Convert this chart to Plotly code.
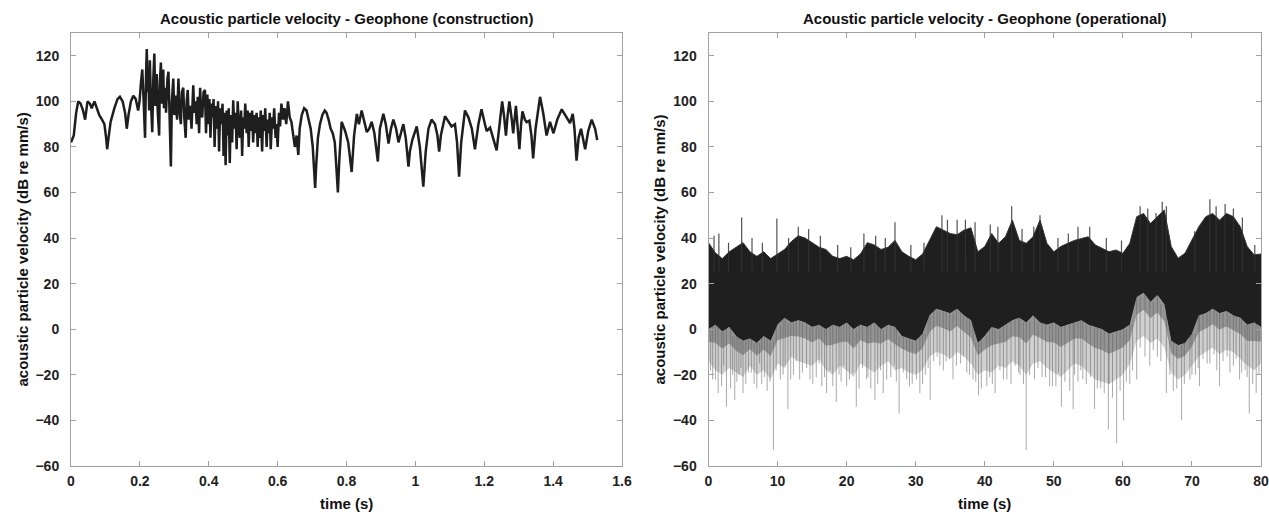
import plotly.graph_objects as go

# ---------------- data: construction (left) ----------------
CON_T = [0.000,0.008,0.015,0.021,0.028,0.035,0.041,0.048,0.055,0.060,0.068,0.075,0.082,0.090,0.097,0.102,0.105,0.109,0.115,0.126,0.135,0.142,0.150,0.157,0.162,0.167,0.174,0.181,0.188,0.195,0.199,0.203,
         0.207,0.211,0.215,0.218,0.220,0.223,0.225,0.227,0.229,0.232,0.236,0.239,0.242,0.245,0.249,0.252,0.256,0.258,0.261,0.264,0.268,0.270,0.273,0.276,0.280,0.283,0.286,0.290,0.293,0.297,0.300,0.304,0.308,0.312,0.315,0.319,0.322,0.326,0.329,0.333,0.336,0.339,0.342,0.346,0.350,0.355,0.358,0.362,0.365,0.368,0.372,0.375,0.378,0.381,0.385,0.389,
         0.392,0.396,0.399,0.402,0.405,0.408,0.411,0.414,0.417,0.420,0.424,0.427,0.430,0.433,0.437,0.440,0.443,0.446,0.449,0.452,0.455,0.458,0.461,0.464,0.468,0.471,0.474,0.478,0.481,0.484,0.487,0.490,0.494,0.497,0.500,0.503,0.506,0.510,0.513,0.516,0.519,0.522,0.526,0.529,0.532,0.535,0.539,0.542,0.545,0.548,0.551,0.555,0.558,0.561,0.564,0.568,0.571,0.574,0.577,0.580,0.584,0.587,0.590,0.594,0.597,0.600,0.604,0.607,
         0.611,0.616,0.620,0.625,0.630,0.635,0.640,0.645,0.650,0.655,0.660,0.664,0.670,0.677,0.684,0.690,0.696,0.702,0.706,0.709,0.712,0.717,0.723,0.730,0.737,0.742,0.748,0.754,0.760,0.766,0.771,0.775,0.779,0.783,
         0.786,0.796,0.805,0.815,0.822,0.830,0.836,0.844,0.859,0.866,0.873,0.881,0.891,0.897,0.907,0.914,0.922,0.929,0.936,0.944,0.951,0.958,0.965,0.972,0.980,0.984,0.991,1.004,1.013,1.023,1.030,1.038,1.047,1.057,1.064,1.069,1.074,1.086,1.096,1.105,1.115,1.121,1.127,1.133,1.144,1.154,1.164,
         1.168,1.173,1.183,1.192,1.202,1.207,1.217,1.226,1.236,1.246,1.252,1.258,1.263,1.268,1.273,1.280,1.284,1.292,1.297,1.302,1.307,1.311,1.318,1.323,1.331,1.337,1.342,1.349,1.362,1.371,1.381,1.391,1.401,1.412,1.425,1.439,1.449,1.457,1.462,1.468,1.474,1.481,1.493,1.502,1.512,1.522,1.528]
CON_V = [82,85,95,100,99,96,92,100,99,97,100,97,94,92,90,84,79,84,91,97,101,102,100,95,88,94,100,102.5,101,96,100,108,
         114,100,84,112,123,104,111,96,118,100,86.5,110,121,98,112,95,85,108,117,99,114,97,106,95,110,113,92,71.4,100,110,94,102.5,92,110,96,90,104,106,93,84,100,105,92,98,88,107,95,100,90,102,86,106,94,93,104,105,
         86,103,90,101,84,99,93,101,80,98,88,100,78,97,90,99,76,95,72,96,85,97,73,94,82,100.5,88,95,79,100,90,84,96,76,93,88,99,86,96,80,95,87,96,82,94,86,95,80,93,84,96,78,94,87,97,80,92,86,95,79,93,88,97,84,90,80,95,89,
         99,92,97,90,100,93,91,86,80,85,76.5,88,94,97,96,92,88,80,70,62,72,84,90,94,96,95,92,88,86,82,70,60,74,88,
         91,87,82,69,85,94.5,90,96,86.5,88,91,86,73.6,88,94.5,90,81.5,88,92,88,82,86,90,84,71.4,78,83,89,80,62.6,78,88,92,90,85,78,85,93.5,91,89,90,82,67,82,96,93,88,
         84,79,90,96.5,90,87,88.5,84,78.5,92,100,93,85,94,100,92,86,98,90,79,90,95.6,92,90.9,91.5,85,75,88,102,95,85,91,86,92,96.5,93,90.5,94.5,88,74,84,88,79,87,92,88,83]

# ---------------- data: operational (right) ----------------
OP_T = list(range(0, 81))
OP_TOP = [38,33.5,31,34,36,38,34,32,34,31,33,35,38.5,41,40,38,36,35,32,31,32,30.5,33,38,37,35,36,39,34,32,30.5,33,39,45,43.5,42,41.5,43.5,44.5,34,
          36.3,42,37.7,40.6,47.9,39,37.7,40.6,47.9,37.7,34,36.3,37.7,39,39.8,40.6,37,35.5,34,34.8,33.3,37.7,49.4,50.8,46.4,49.4,52.3,36.3,31.2,33.4,39.2,45,49.4,50.8,47.9,50.8,49.4,45,36.3,32.7,33]
OP_CORE_BOT = [0,2,-1,1,-3,-5,-4,-6,-3,-5,2,5,3,4,3,1,2,0,2,1,3,0,2,1,3,0,2,1,-3,-4,-5,-2,6,9,8,7,9,6,4,-6,
               -3,1,0,2,4,5,3,6,3,2,3,1,2,3,4,2,1,0,-2,-1,0,2,14,16,12,15,11,-5,-7,-6,-2,6,7,9,7,8,6,5,2,3,1]
OP_GRAY_BOT = [-14,-18,-20,-17,-19,-21,-16,-20,-18,-22,-15,-17,-12,-14,-15,-16,-13,-18,-20,-16,-18,-21,-15,-17,-19,-16,-14,-18,-17,-19,-20,-18,-12,-10,-11,-13,-10,-12,-15,-20,
               -18,-19,-16,-17,-14,-16,-20,-15,-14,-17,-19,-21,-18,-15,-16,-19,-22,-23,-24,-22,-20,-15,-5,-3,-6,-4,-8,-19,-22,-20,-16,-12,-10,-8,-11,-9,-10,-13,-16,-18,-15]
DOWN_T = [1.4,2.6,3.8,5.0,5.8,7.7,9.4,10.4,11.5,13.2,14.7,15.6,17.1,18.5,20.0,21.4,22.9,24.1,25.3,27.6,28.7,30.6,32.1,33.5,35.4,37.4,39.1,40.3,41.5,42.7,46.0,47.2,49.4,51.1,52.8,54.2,55.9,57.9,59.1,60.1,62.0,63.9,66.3,68.5,69.7,71.1,74.0,75.5,76.9,78.3,79.3,
          0.6,3.2,4.4,6.6,8.5,12.3,16.4,19.2,23.5,26.4,29.5,31.4,34.4,36.5,38.3,43.8,45.1,48.3,50.3,53.5,56.8,58.5,61.0,65.0,67.3,70.5,72.6,77.7]
DOWN_V = [-28,-34,-31,-28,-19,-24,-53,-22,-35,-22,-22,-21,-28,-32,-25,-34,-22,-31,-28,-37,-22,-28,-31,-16,-22,-19,-29,-25,-28,-22,-53,-22,-25,-34,-35,-22,-35,-44,-50,-40,-22,-16,-28,-40,-22,-25,-25,-19,-22,-37,-28,
          -22,-26,-20,-24,-27,-20,-25,-23,-26,-21,-24,-20,-14,-15,-22,-24,-20,-21,-25,-23,-26,-30,-24,-12,-27,-20,-15,-18]
HAIR_T = [0.3,1.0,1.9,2.2,3.5,4.1,4.7,5.4,6.2,7.0,7.4,8.1,8.9,9.8,10.8,11.1,11.9,12.7,13.6,14.2,15.1,16.0,16.8,17.6,18.0,18.9,19.6,20.4,20.9,21.8,22.3,23.1,24.5,24.9,25.8,26.9,27.2,28.2,29.1,30.1,
          31.0,31.8,32.6,33.1,34.0,34.9,35.9,36.9,37.8,38.7,39.5,40.7,41.1,42.2,43.2,44.4,44.9,45.6,46.5,47.7,48.8,49.8,50.7,51.6,52.3,53.0,53.9,54.7,55.3,56.3,57.3,58.0,59.6,60.5,61.4,62.5,63.2,64.4,65.5,66.8,
          67.8,68.9,70.0,70.9,71.6,72.2,73.2,73.6,74.5,75.1,76.0,76.4,77.2,78.0,78.8,79.7]
HAIR_V = [-18,-22,-25,-16,-20,-23,-17,-24,-19,-26,-15,-21,-23,-18,-20,-16,-22,-14,-19,-17,-24,-15,-21,-18,-25,-20,-16,-22,-19,-26,-17,-21,-24,-18,-22,-16,-23,-19,-25,-22,
          -24,-17,-14,-12,-18,-13,-16,-12,-20,-23,-26,-21,-24,-18,-22,-16,-19,-24,-20,-17,-21,-25,-19,-23,-27,-20,-18,-24,-21,-26,-28,-24,-27,-23,-18,-8,-12,-9,-14,-20,
          -26,-24,-20,-17,-13,-15,-11,-18,-14,-12,-16,-13,-19,-21,-24,-20]
UP_T = [1.5,4.8,9.9,13.0,22.5,27.0,33.8,36.0,40.8,43.9,48.0,53.5,62.5,65.7,72.6,74.8,76.0,
        0.8,2.9,6.3,7.8,11.6,14.5,16.2,18.7,20.6,24.2,25.6,29.3,31.2,34.6,37.2,38.6,41.9,45.4,47.1,50.6,52.1,55.2,57.6,59.8,63.6,64.8,66.3,70.4,73.5,77.3,79.1]
UP_V = [42,49,48.6,45,42,47,50,48,46,54,50,45,54,56,57,55,53,
        41,38,40,38,40,44,41,37,36,41,40,37,38,48,48,47,45,44,45,40,42,45,40,39,53,51,54,43,54,49,37]

W, H = 1269, 523
L_X0, L_X1 = 71, 622
R_X0, R_X1 = 708.5, 1261
Y_TOP, Y_BOT = 33, 466

def px(x):
    return x / W

def py(y):
    return 1 - y / H

fig = go.Figure()

fig.add_trace(go.Scatter(x=CON_T, y=CON_V, mode="lines",
                         line=dict(color="#1e1e1e", width=2.5), xaxis="x", yaxis="y",
                         showlegend=False))

# operational: light gray zone, hairs, transition band, dark core
op_mid = [c + (g - c) * 0.4 for c, g in zip(OP_CORE_BOT, OP_GRAY_BOT)]
noline = dict(width=0, color="rgba(0,0,0,0)")
fig.add_trace(go.Scatter(x=OP_T, y=OP_GRAY_BOT, mode="lines", line=noline,
                         xaxis="x2", yaxis="y2", showlegend=False))
fig.add_trace(go.Scatter(x=OP_T, y=op_mid, mode="lines", line=noline,
                         fill="tonexty", fillcolor="rgba(150,150,150,0.45)",
                         xaxis="x2", yaxis="y2", showlegend=False))
fig.add_trace(go.Scatter(x=OP_T, y=OP_CORE_BOT, mode="lines", line=noline,
                         fill="tonexty", fillcolor="rgba(90,90,90,0.65)",
                         xaxis="x2", yaxis="y2", showlegend=False))

hx, hy = [], []
for t, v in zip(DOWN_T + HAIR_T, DOWN_V + HAIR_V):
    base = OP_CORE_BOT[min(int(round(t)), len(OP_CORE_BOT) - 1)]
    hx += [t, t, None]
    hy += [base, v, None]
fig.add_trace(go.Scatter(x=hx, y=hy, mode="lines", line=dict(color="rgba(95,95,95,0.6)", width=0.9),
                         xaxis="x2", yaxis="y2", showlegend=False))

fig.add_trace(go.Scatter(x=OP_T, y=OP_CORE_BOT, mode="lines", line=noline,
                         xaxis="x2", yaxis="y2", showlegend=False))
fig.add_trace(go.Scatter(x=OP_T, y=OP_TOP, mode="lines", line=dict(width=1, color="#333"),
                         fill="tonexty", fillcolor="#1f1f1f",
                         xaxis="x2", yaxis="y2", showlegend=False))

ux, uy = [], []
for t, v in zip(UP_T, UP_V):
    ux += [t, t, None]
    uy += [25, v, None]
fig.add_trace(go.Scatter(x=ux, y=uy, mode="lines", line=dict(color="rgba(50,50,50,0.85)", width=1.2),
                         xaxis="x2", yaxis="y2", showlegend=False))

FONT = "Liberation Sans, Arial, sans-serif"
tickfont = dict(family=FONT, size=14, color="#222", weight="bold")
axis_common = dict(showline=True, linecolor="#a0a0a0", linewidth=1, mirror="ticks",
                   ticks="inside", ticklen=5, tickcolor="#a0a0a0", showgrid=False,
                   zeroline=False, tickfont=tickfont, automargin=False)

Y_VALS = [-60, -40, -20, 0, 20, 40, 60, 80, 100, 120]
fig.update_layout(
    width=W, height=H, margin=dict(l=0, r=0, t=0, b=0, autoexpand=False),
    paper_bgcolor="white", plot_bgcolor="white", hovermode=False,
    xaxis=dict(domain=[px(L_X0), px(L_X1)], range=[0, 1.6],
               tickvals=[0, 0.2, 0.4, 0.6, 0.8, 1.0, 1.2, 1.4, 1.6],
               ticktext=["0", "0.2", "0.4", "0.6", "0.8", "1", "1.2", "1.4", "1.6"],
               anchor="y", ticklabelstandoff=2, **axis_common),
    yaxis=dict(domain=[py(Y_BOT), py(Y_TOP)], range=[-60, 130], tickvals=Y_VALS,
               anchor="x", ticklabelstandoff=8, **axis_common),
    xaxis2=dict(domain=[px(R_X0), px(R_X1)], range=[0, 80],
                tickvals=[0, 10, 20, 30, 40, 50, 60, 70, 80], anchor="y2", ticklabelstandoff=2,
                **axis_common),
    yaxis2=dict(domain=[py(Y_BOT), py(Y_TOP)], range=[-60, 130], tickvals=Y_VALS,
                anchor="x2", ticklabelstandoff=8, **axis_common),
)

ann_font = dict(family=FONT, size=15, color="#111", weight="bold")
annotations = [
    dict(text="Acoustic particle velocity - Geophone (construction)", x=px((L_X0 + L_X1) / 2), y=py(18)),
    dict(text="Acoustic particle velocity - Geophone (operational)", x=px((R_X0 + R_X1) / 2), y=py(18)),
    dict(text="time (s)", x=px((L_X0 + L_X1) / 2), y=py(503)),
    dict(text="time (s)", x=px((R_X0 + R_X1) / 2), y=py(503)),
    dict(text="acoustic particle velocity (dB re mm/s)", x=px(22), y=py((Y_TOP + Y_BOT) / 2), textangle=-90),
    dict(text="acoustic particle velocity (dB re nm/s)", x=px(659), y=py((Y_TOP + Y_BOT) / 2), textangle=-90),
]
for a in annotations:
    a.update(xref="paper", yref="paper", showarrow=False, xanchor="center", yanchor="middle", font=ann_font)
fig.update_layout(annotations=annotations)

# remove the default 8px page margin so the figure fills the window exactly
fig.write_html("out.html", config={"displayModeBar": False},
               post_script="document.body.style.margin='0px';document.body.style.overflow='hidden';")
